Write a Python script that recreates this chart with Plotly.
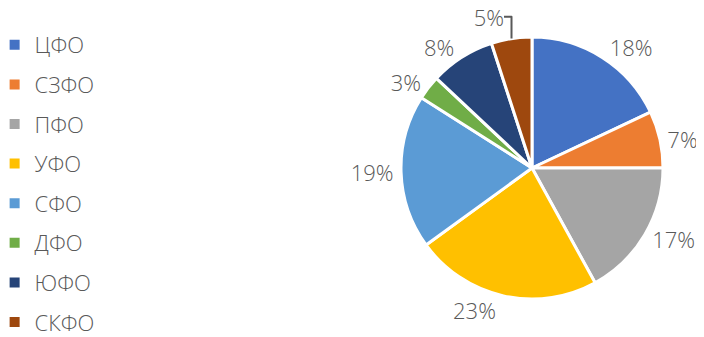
import plotly.graph_objects as go

regions = ["ЦФО", "СЗФО", "ПФО", "УФО", "СФО", "ДФО", "ЮФО", "СКФО"]
shares = [18, 7, 17, 23, 19, 3, 8, 5]
colors = ["#4472C4", "#ED7D31", "#A5A5A5", "#FFC000", "#5B9BD5", "#70AD47", "#264478", "#9E480E"]

W, H = 704, 337
FONT = "Open Sans"
fig = go.Figure()
fig.add_trace(go.Pie(
    labels=regions, values=shares, sort=False, direction="clockwise", rotation=0,
    marker=dict(colors=colors, line=dict(color="white", width=3)),
    textinfo="percent", texttemplate="%{value}%", textposition="outside",
    textfont=dict(size=22, color="#595959", family=FONT, weight=300),
    domain=dict(x=[393 / W, 655 / W], y=[(H - 291) / H, (H - 29) / H]),
    showlegend=False, hoverinfo="label+percent",
))
for i, (r, c) in enumerate(zip(regions, colors)):
    fig.add_trace(go.Scatter(
        x=[None], y=[None], mode="markers", name=r, legendgroup=r,
        marker=dict(symbol="square", size=10, color=c),
    ))

fig.update_layout(
    width=W, height=H, margin=dict(l=0, r=0, t=0, b=0, autoexpand=False),
    paper_bgcolor="white", plot_bgcolor="white",
    xaxis=dict(visible=False), yaxis=dict(visible=False),
    legend=dict(x=-0.019, y=1 - 16 / H, xanchor="left", yanchor="top",
                font=dict(size=22, color="#595959", family=FONT, weight=300),
                tracegroupgap=8, itemwidth=30, bgcolor="rgba(0,0,0,0)",
                maxheight=400),
    font=dict(family=FONT),
)
fig.write_html("out.html")
